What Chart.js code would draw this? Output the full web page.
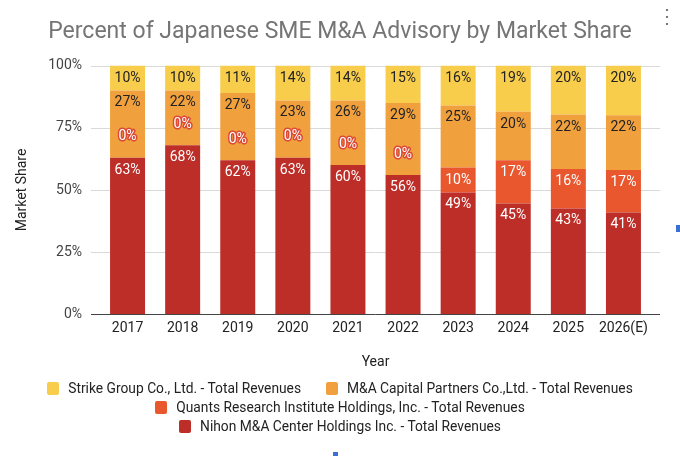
<!DOCTYPE html>
<html>
<head>
<meta charset="utf-8">
<script src="https://cdn.jsdelivr.net/npm/chart.js@4.4.1/dist/chart.umd.min.js"></script>
<style>
  html, body { margin: 0; padding: 0; background: #fff; }
  #wrap { position: relative; width: 680px; height: 456px; overflow: hidden; font-family: Roboto, sans-serif; }
  #chart { position: absolute; left: 0; top: 0; }
  #legend { position: absolute; left: 0; top: 381px; width: 680px; display: flex; flex-wrap: wrap;
    justify-content: center; column-gap: 25px; row-gap: 4px; font-size: 13.8px; color: #222; line-height: 15px; }
  .item { display: flex; align-items: center; white-space: nowrap; }
  .box { width: 12px; height: 13px; border-radius: 2px; margin-right: 9px; }
  #menu { position: absolute; left: 657px; top: 4px; font-size: 20px; color: #777; }
  .handle { position: absolute; background: #3b6fd6; }
</style>
</head>
<body>
<div id="wrap">
  <canvas id="chart" width="680" height="456"></canvas>
  <div id="legend"></div>
  <div id="menu">&#8942;</div>
  <div class="handle" style="left:333px; top:452px; width:5px; height:4px;"></div>
  <div class="handle" style="left:676px; top:225px; width:4px; height:7px;"></div>
</div>
<script>
const years = ["2017", "2018", "2019", "2020", "2021", "2022", "2023", "2024", "2025", "2026(E)"];
const nihon = [63, 68, 62, 63, 60, 56, 49, 44.6, 42.6, 41];
const quants = [0, 0, 0, 0, 0, 0, 10, 17.4, 15.8, 17];
const maCapital = [27, 22, 27, 23, 26, 29, 25, 19.5, 21.9, 22];
const strike = [10, 10, 11, 14, 14, 15, 16, 18.5, 19.7, 20];
const yTicks = [0, 25, 50, 75, 100];

const series = [
  { label: "Nihon M&A Center Holdings Inc. - Total Revenues", data: nihon, color: "#bd2e28", text: "#fff" },
  { label: "Quants Research Institute Holdings, Inc. - Total Revenues", data: quants, color: "#e9572f", text: "#fff" },
  { label: "M&A Capital Partners Co.,Ltd. - Total Revenues", data: maCapital, color: "#f0a13d", text: "#222" },
  { label: "Strike Group Co., Ltd. - Total Revenues", data: strike, color: "#f7cd4b", text: "#222" },
];

const font = { family: "Roboto", size: 14 };

// light gridlines under the bars, dark baseline over them
const gridLines = {
  id: "gridLines",
  beforeDatasetsDraw(chart) {
    const { ctx, chartArea } = chart;
    const y = chart.scales.y;
    ctx.save();
    ctx.lineWidth = 1;
    ctx.strokeStyle = "#d9d9d9";
    yTicks.forEach(v => {
      const py = Math.round(y.getPixelForValue(v)) + 0.5;
      ctx.beginPath();
      ctx.moveTo(chartArea.left - 9, py);
      ctx.lineTo(chartArea.right + 9, py);
      ctx.stroke();
    });
    ctx.restore();
  },
  afterDatasetsDraw(chart) {
    const { ctx, chartArea } = chart;
    const py = Math.round(chart.scales.y.getPixelForValue(0)) + 0.5;
    ctx.save();
    ctx.strokeStyle = "#444";
    ctx.lineWidth = 1;
    ctx.beginPath();
    ctx.moveTo(chartArea.left - 9, py);
    ctx.lineTo(chartArea.right + 9, py);
    ctx.stroke();
    ctx.restore();
  }
};

// percent labels near the top of each segment
const barLabels = {
  id: "barLabels",
  afterDatasetsDraw(chart) {
    const { ctx } = chart;
    ctx.save();
    ctx.font = "14px Roboto";
    ctx.textAlign = "center";
    ctx.textBaseline = "middle";
    chart.data.datasets.forEach((ds, di) => {
      const meta = chart.getDatasetMeta(di);
      meta.data.forEach((el, i) => {
        const v = ds.data[i];
        const txt = Math.round(v) + "%";
        if (v === 0) {
          ctx.lineJoin = "round";
          ctx.lineWidth = 3;
          ctx.strokeStyle = "#dc4a35";
          ctx.strokeText(txt, el.x, el.y - 21);
          ctx.fillStyle = "#fff";
          ctx.fillText(txt, el.x, el.y - 21);
        } else {
          ctx.fillStyle = series[di].text;
          ctx.fillText(txt, el.x, el.y + 12.5);
        }
      });
    });
    ctx.restore();
  }
};

new Chart(document.getElementById("chart"), {
  type: "bar",
  data: {
    labels: years,
    datasets: series.map(s => ({
      label: s.label,
      data: s.data,
      backgroundColor: s.color,
      borderWidth: 0,
      barPercentage: 0.635,
      categoryPercentage: 1,
    })),
  },
  options: {
    responsive: false,
    animation: false,
    layout: { padding: { left: 0, right: 0, top: 0, bottom: 75 } },
    plugins: {
      legend: { display: false },
      tooltip: { enabled: false },
      title: {
        display: true,
        text: "Percent of Japanese SME M&A Advisory by Market Share",
        color: "#757575",
        font: { family: "Roboto", size: 23, weight: "normal" },
        padding: { top: 18, bottom: 20 },
      },
    },
    scales: {
      x: {
        stacked: true,
        grid: { display: false, drawTicks: false },
        border: { display: false },
        ticks: { color: "#222", font, padding: 6, maxRotation: 0, autoSkip: false },
        title: { display: true, text: "Year", color: "#222", font, padding: { top: 11, bottom: 10 } },
      },
      y: {
        stacked: true,
        min: 0,
        max: 100,
        grid: { display: false, drawTicks: false },
        border: { display: false },
        ticks: { stepSize: 25, callback: v => v + "%", color: "#444", font, padding: 18 },
        title: { display: true, text: "Market Share", color: "#222", font, padding: { top: 14, bottom: 0 } },
        afterFit: s => { s.width = 100; },
      },
      // empty right margin so the title stays centred on the whole card
      yRight: {
        position: "right",
        grid: { display: false, drawTicks: false },
        border: { display: false },
        ticks: { display: false },
        afterFit: s => { s.width = 29; },
      },
    },
  },
  plugins: [gridLines, barLabels],
});

// legend in the reference order
const legend = document.getElementById("legend");
series.slice().reverse().forEach(s => {
  const item = document.createElement("div");
  item.className = "item";
  item.innerHTML = `<span class="box" style="background:${s.color}"></span><span>${s.label}</span>`;
  legend.appendChild(item);
});
</script>
</body>
</html>
